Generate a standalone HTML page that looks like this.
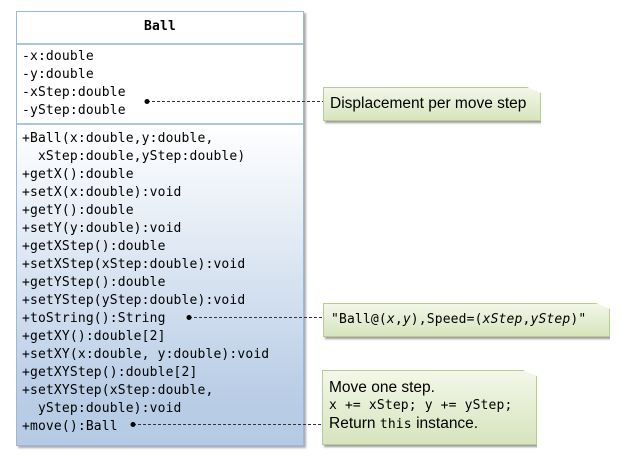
<html><head><style>
body{margin:0;width:626px;height:464px;background:#fff;position:relative;overflow:hidden}
.m{font-family:"DejaVu Sans Mono","Liberation Mono",monospace;font-size:13px;color:#000;letter-spacing:0.15px}
.box{position:absolute;left:16px;top:11px;width:286px;height:433px;border:1px solid #9bb7d9;box-shadow:2px 2px 2px #aaa;background:#fff}
.title{position:absolute;left:0;top:0;width:286px;height:31px;border-bottom:2px solid #a9c7e2;text-align:center;line-height:30px;font-weight:bold}
.attr{position:absolute;left:0;top:33px;width:286px;height:78px;border-bottom:2px solid #a9c7e2}
.meth{position:absolute;left:0;top:113px;width:286px;height:320px;background:linear-gradient(#fff,#b9cde6 85%,#b5cae4)}
.l{position:absolute;left:5px;white-space:pre;line-height:18px}
.note{position:absolute;background:linear-gradient(#f3f7e9,#d7e4bd);border:1px solid #b9cc92;box-shadow:2px 2px 2px #999;clip-path:polygon(0 0,calc(100% - 14px) 0,100% 6px,100% 120%,-10px 120%,-10px 0)}
.s{font-family:"Liberation Sans",sans-serif;font-size:15.5px}
</style></head><body>
<div class="box m">
<div class="title">Ball</div>
<div class="attr">
<div class="l" style="top:3px">-x:double</div>
<div class="l" style="top:21px">-y:double</div>
<div class="l" style="top:39px">-xStep:double</div>
<div class="l" style="top:57px">-yStep:double</div>
</div>
<div class="meth">
<div class="l" style="top:5px">+Ball(x:double,y:double,
  xStep:double,yStep:double)
+getX():double
+setX(x:double):void
+getY():double
+setY(y:double):void
+getXStep():double
+setXStep(xStep:double):void
+getYStep():double
+setYStep(yStep:double):void
+toString():String
+getXY():double[2]
+setXY(x:double, y:double):void
+getXYStep():double[2]
+setXYStep(xStep:double,
  yStep:double):void
+move():Ball</div>
</div>
</div>
<svg width="626" height="464" style="position:absolute;left:0;top:0">
<g stroke="#333" stroke-width="1" stroke-dasharray="3,2">
<line x1="147" y1="101.5" x2="323" y2="101.5"/>
<line x1="189" y1="317.5" x2="323" y2="317.5"/>
<line x1="133" y1="424.5" x2="322" y2="424.5"/>
</g>
<circle cx="147" cy="101.5" r="2.5"/><circle cx="189" cy="317.5" r="2.5"/><circle cx="133" cy="424.5" r="2.5"/>
</svg>
<div class="note s" style="left:323px;top:87px;width:218px;height:34px;line-height:32px;padding-left:6px;box-sizing:border-box">Displacement per move step</div>
<div class="note m" style="left:323px;top:303px;width:287px;height:34px;line-height:32px;padding-left:7px;box-sizing:border-box">"Ball@(<i>x</i>,<i>y</i>),Speed=(<i>xStep</i>,<i>yStep</i>)"</div>
<div class="note" style="left:322px;top:370px;width:215px;height:75px;box-sizing:border-box;padding:8px 0 0 6px;line-height:18px">
<div class="s">Move one step.</div>
<div class="m">x += xStep; y += yStep;</div>
<div class="s">Return <span class="m">this</span> instance.</div>
</div>
</body></html>
